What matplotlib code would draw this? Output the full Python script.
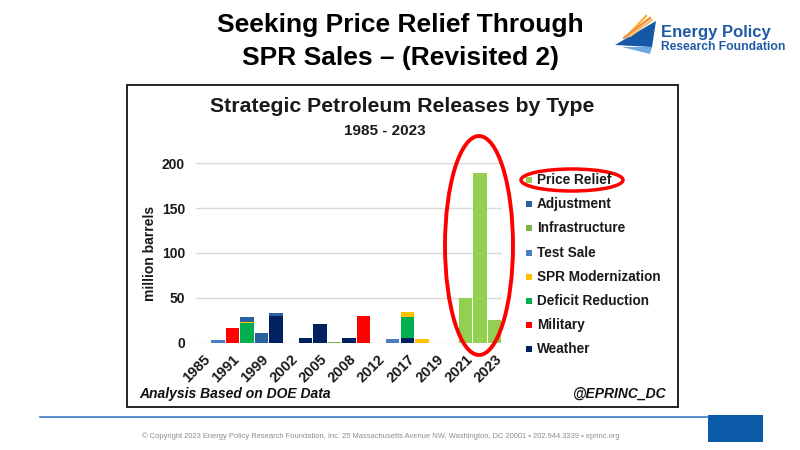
import matplotlib
matplotlib.use("Agg")
import matplotlib.pyplot as plt
import numpy as np
from matplotlib.patches import Ellipse, Rectangle, Polygon

plt.rcParams['font.family'] = ['Liberation Sans', 'DejaVu Sans']

# ---------------- data ----------------
years = ['1985', '1990', '1991', '1996', '1999', '2000', '2002', '2003', '2005', '2006', '2008',
         '2011', '2012', '2014', '2017', '2018', '2019', '2020', '2021', '2022', '2023']
tick_labels = ['1985', '1991', '1999', '2002', '2005', '2008', '2012', '2017', '2019', '2021', '2023']

weather        = [0, 0, 0, 0, 0, 29.5, 0, 4.8, 20.4, 0, 4.8, 0, 0, 0, 5.0, 0, 0, 0, 0, 0, 0]
military       = [0, 0, 16.5, 0, 0, 0, 0, 0, 0, 0, 0, 30.3, 0, 0, 0, 0, 0, 0, 0, 0, 0]
deficit        = [0, 0, 0, 22.5, 0, 0, 0, 0, 0, 0, 0, 0, 0, 0, 23.3, 0, 0, 0, 0, 0, 0]
spr_mod        = [0, 0, 0, 0.7, 0, 0, 0, 0, 0, 0, 0, 0, 0, 0, 6.3, 3.8, 0, 0, 0, 0, 0]
test_sale      = [0, 3.4, 0, 0, 0, 0, 0, 0, 0, 0, 0, 0, 0, 4.0, 0, 0, 0, 0, 0, 0, 0]
infrastructure = [0, 0, 0, 0, 0, 0.8, 0, 0, 0, 0.9, 0, 0, 0, 0, 0, 0, 0, 0, 0, 0, 0]
adjustment     = [0, 0, 0, 5.5, 10.6, 2.5, 0, 0, 0, 0, 0, 0, 0, 0, 0, 0, 0, 0, 0, 0, 0]
price_relief   = [0, 0, 0, 0, 0, 0, 0, 0, 0, 0, 0, 0, 0, 0, 0, 0, 0, 0, 50.0, 189.0, 25.5]

series_names = ['Weather', 'Military', 'Deficit Reduction', 'SPR Modernization', 'Test Sale',
                'Infrastructure', 'Adjustment', 'Price Relief']
series_vals = [weather, military, deficit, spr_mod, test_sale, infrastructure, adjustment, price_relief]
series_colors = ['#002060', '#FF0000', '#00B050', '#FFC000', '#4A7EC2', '#7DB546', '#2A62A0', '#92D050']

W, H = 800, 450
fig = plt.figure(figsize=(8, 4.5), dpi=100)

def fx(px):
    return px / W

def fy(py):
    return 1 - py / H

# ---------------- page decorations ----------------
fig.text(fx(400), fy(25), 'Seeking Price Relief Through', ha='center', va='center',
         fontsize=19, fontweight='bold', color='black')
fig.text(fx(400), fy(58), 'SPR Sales \u2013 (Revisited 2)', ha='center', va='center',
         fontsize=19, fontweight='bold', color='black')

# logo
logo_blue = '#1F5AA6'
fig.patches.append(Polygon([(fx(615), fy(45)), (fx(656), fy(21)), (fx(652), fy(47))],
                           closed=True, transform=fig.transFigure, facecolor='#1558A8', edgecolor='none'))
fig.patches.append(Polygon([(fx(622), fy(47)), (fx(652), fy(47)), (fx(650), fy(54))],
                           closed=True, transform=fig.transFigure, facecolor='#6FA8DC', edgecolor='none'))
for (x0, y0, x1, y1, c) in [(627, 36, 646, 16, '#F7B733'), (624, 38, 650, 18, '#F08A3C'), (630, 36, 652, 20, '#F5C26B')]:
    fig.add_artist(plt.Line2D([fx(x0), fx(x1)], [fy(y0), fy(y1)], transform=fig.transFigure,
                              color=c, lw=1.6))
fig.text(fx(661), fy(32), 'Energy Policy', ha='left', va='center', fontsize=12,
         fontweight='bold', color=logo_blue)
fig.text(fx(661), fy(47), 'Research Foundation', ha='left', va='center', fontsize=8.7,
         fontweight='bold', color=logo_blue)

# chart border box
fig.patches.append(Rectangle((fx(127), fy(407)), fx(678 - 127), (407 - 84.5) / H,
                             transform=fig.transFigure, facecolor='none', edgecolor='#222222', lw=1.4))

# footer line + rectangle
fig.add_artist(plt.Line2D([fx(40), fx(708)], [fy(417), fy(417)], transform=fig.transFigure,
                          color='#3B78C0', lw=1.2))
fig.patches.append(Rectangle((fx(708), fy(442)), fx(763 - 708), (442 - 415) / H,
                             transform=fig.transFigure, facecolor='#0B5AA8', edgecolor='none'))
fig.text(fx(381), fy(436), '\u00a9 Copyright 2023 Energy Policy Research Foundation, Inc. 25 Massachusetts Avenue NW, '
         'Washington, DC 20001 \u2022 202.944.3339 \u2022 eprinc.org', ha='center', va='center',
         fontsize=5.45, color='#8C8C8C')

# chart titles
fig.text(fx(402), fy(107), 'Strategic Petroleum Releases by Type', ha='center', va='center',
         fontsize=15.3, fontweight='bold', color='#1a1a1a')
fig.text(fx(385), fy(131), '1985 - 2023', ha='center', va='center',
         fontsize=11, fontweight='bold', color='#1a1a1a')
fig.text(fx(139), fy(394), 'Analysis Based on DOE Data', ha='left', va='center',
         fontsize=10, fontweight='bold', style='italic', color='#111111')
fig.text(fx(667), fy(394), '@EPRINC_DC', ha='right', va='center',
         fontsize=10, fontweight='bold', style='italic', color='#111111')

# ---------------- axes ----------------
ax_left, ax_right = 196, 502
ax_top, ax_bottom = 163.3, 342.7
ax = fig.add_axes([fx(ax_left), fy(ax_bottom), fx(ax_right - ax_left), (ax_bottom - ax_top) / H])
x = np.arange(len(years))
bottom = np.zeros(len(years))
for name, vals, col in zip(series_names, series_vals, series_colors):
    v = np.array(vals, dtype=float)
    ax.bar(x, v, width=0.92, bottom=bottom, color=col, edgecolor='none', label=name)
    bottom += v

ax.set_xlim(-0.5, len(years) - 0.5)
ax.set_ylim(0, 200)
ax.set_yticks([0, 50, 100, 150, 200])
ax.yaxis.grid(True, color='#D9D9D9', lw=1)
ax.set_axisbelow(True)
for s in ax.spines.values():
    s.set_visible(False)
ax.tick_params(axis='both', length=0)
ax.tick_params(axis='y', labelsize=10, pad=8)
for lab in ax.get_yticklabels():
    lab.set_fontweight('bold')
    lab.set_color('#1a1a1a')

tick_pos = [years.index(t) for t in tick_labels]
ax.set_xticks(tick_pos)
ax.set_xticklabels(tick_labels, rotation=45, ha='right', rotation_mode='anchor',
                   fontsize=10.5, fontweight='bold', color='#1a1a1a')
ax.tick_params(axis='x', pad=7)
ax.set_ylabel('million barrels', fontsize=10, fontweight='bold', color='#1a1a1a', labelpad=3)

# red ellipse around recent price relief bars
fig.patches.append(Ellipse((fx(479), fy(245.5)), fx(68), 219 / H, transform=fig.transFigure,
                           facecolor='none', edgecolor='#FF0000', lw=2.8))

# ---------------- legend (manual) ----------------
legend_order = ['Price Relief', 'Adjustment', 'Infrastructure', 'Test Sale',
                'SPR Modernization', 'Deficit Reduction', 'Military', 'Weather']
for i, name in enumerate(legend_order):
    yy = 180 + i * 24.2
    col = series_colors[series_names.index(name)]
    fig.patches.append(Rectangle((fx(526), fy(yy + 3)), fx(6), 6 / H, transform=fig.transFigure,
                                 facecolor=col, edgecolor='none'))
    fig.text(fx(537), fy(yy), name, ha='left', va='center', fontsize=9.8,
             fontweight='bold', color='#1a1a1a')
fig.patches.append(Ellipse((fx(572), fy(180)), fx(102), 22 / H, transform=fig.transFigure,
                           facecolor='none', edgecolor='#FF0000', lw=2.5))

fig.savefig('out.png', dpi=100)
